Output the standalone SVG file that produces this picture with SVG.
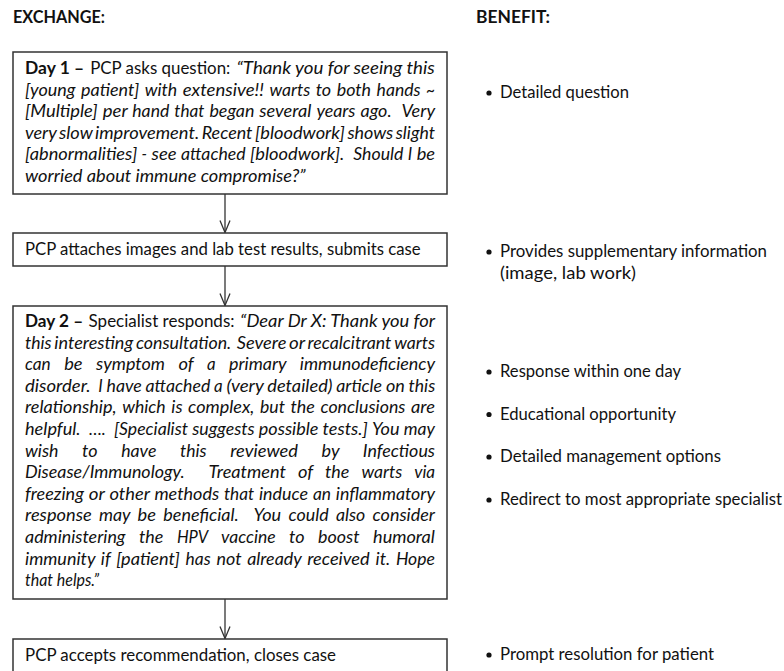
<svg xmlns="http://www.w3.org/2000/svg" width="784" height="671" viewBox="0 0 784 671">
<style>
text{font-family:Lato,"Liberation Sans",sans-serif;font-size:16.5px;fill:#111}
.h{font-weight:bold}
.b{font-weight:bold;font-style:normal}
.r{font-style:normal}
.i{font-style:italic}
.box{fill:#fff;stroke:#333;stroke-width:1.5}
.con{stroke:#333;stroke-width:1.3;fill:none}
.dot{fill:#111}
</style>
<defs>
<marker id="ah" markerWidth="14" markerHeight="12" refX="13" refY="6" orient="auto" markerUnits="userSpaceOnUse" viewBox="0 0 14 12">
<path d="M1,1 L13,6 L1,11" fill="none" stroke="#333" stroke-width="1.3"/>
</marker>
</defs>
<rect width="784" height="671" fill="#fff"/>
<text class="h" x="13" y="23" textLength="92" lengthAdjust="spacingAndGlyphs">EXCHANGE:</text>
<text class="h" x="476" y="23" textLength="74" lengthAdjust="spacingAndGlyphs">BENEFIT:</text>

<g id="connectors">
<line class="con" x1="225" y1="194" x2="225" y2="232.5" marker-end="url(#ah)"/>
<line class="con" x1="225" y1="266" x2="225" y2="305.5" marker-end="url(#ah)"/>
<line class="con" x1="225" y1="599" x2="225" y2="638.5" marker-end="url(#ah)"/>
</g>

<g id="n1">
<rect class="box" x="13" y="52" width="434" height="142"/>
<text y="74"><tspan class="b" x="25" textLength="59.1" lengthAdjust="spacingAndGlyphs">Day 1 –</tspan> <tspan x="90.2" textLength="140.1" lengthAdjust="spacingAndGlyphs">PCP asks question:</tspan> <tspan class="i" x="236.4" textLength="198.4" lengthAdjust="spacingAndGlyphs">“Thank you for seeing this</tspan></text>
<text class="i" y="95.6"><tspan x="25" textLength="50.5" lengthAdjust="spacingAndGlyphs">[young</tspan> <tspan x="81" textLength="58.2" lengthAdjust="spacingAndGlyphs">patient]</tspan> <tspan x="144.7" textLength="32.5" lengthAdjust="spacingAndGlyphs">with</tspan> <tspan x="182.7" textLength="81.2" lengthAdjust="spacingAndGlyphs">extensive!!</tspan> <tspan x="269.4" textLength="40.8" lengthAdjust="spacingAndGlyphs">warts</tspan> <tspan x="315.7" textLength="15.5" lengthAdjust="spacingAndGlyphs">to</tspan> <tspan x="336.7" textLength="34.4" lengthAdjust="spacingAndGlyphs">both</tspan> <tspan x="376.6" textLength="44" lengthAdjust="spacingAndGlyphs">hands</tspan> <tspan x="426.1" textLength="9" lengthAdjust="spacingAndGlyphs">~</tspan></text>
<text class="i" y="117.2"><tspan x="25" textLength="72.7" lengthAdjust="spacingAndGlyphs">[Multiple]</tspan> <tspan x="102.7" textLength="24.7" lengthAdjust="spacingAndGlyphs">per</tspan> <tspan x="132.3" textLength="37" lengthAdjust="spacingAndGlyphs">hand</tspan> <tspan x="174.3" textLength="30.1" lengthAdjust="spacingAndGlyphs">that</tspan> <tspan x="209.4" textLength="45" lengthAdjust="spacingAndGlyphs">began</tspan> <tspan x="259.3" textLength="52.1" lengthAdjust="spacingAndGlyphs">several</tspan> <tspan x="316.4" textLength="39.1" lengthAdjust="spacingAndGlyphs">years</tspan> <tspan x="360.5" textLength="31.1" lengthAdjust="spacingAndGlyphs">ago.</tspan> <tspan x="401.5" textLength="33.6" lengthAdjust="spacingAndGlyphs">Very</tspan></text>
<text class="i" y="138.8"><tspan x="25" textLength="31.5" lengthAdjust="spacingAndGlyphs">very</tspan> <tspan x="59" textLength="33.5" lengthAdjust="spacingAndGlyphs">slow</tspan> <tspan x="95" textLength="104.2" lengthAdjust="spacingAndGlyphs">improvement.</tspan> <tspan x="201.7" textLength="50.8" lengthAdjust="spacingAndGlyphs">Recent</tspan> <tspan x="255" textLength="89.9" lengthAdjust="spacingAndGlyphs">[bloodwork]</tspan> <tspan x="347.4" textLength="45.9" lengthAdjust="spacingAndGlyphs">shows</tspan> <tspan x="395.8" textLength="39.2" lengthAdjust="spacingAndGlyphs">slight</tspan></text>
<text class="i" y="160.4"><tspan x="25" textLength="112.2" lengthAdjust="spacingAndGlyphs">[abnormalities]</tspan> <tspan x="141.6" textLength="5.5" lengthAdjust="spacingAndGlyphs">-</tspan> <tspan x="151.5" textLength="25" lengthAdjust="spacingAndGlyphs">see</tspan> <tspan x="180.9" textLength="64.8" lengthAdjust="spacingAndGlyphs">attached</tspan> <tspan x="250" textLength="94.4" lengthAdjust="spacingAndGlyphs">[bloodwork].</tspan> <tspan x="353.2" textLength="50.2" lengthAdjust="spacingAndGlyphs">Should</tspan> <tspan x="407.8" textLength="4.5" lengthAdjust="spacingAndGlyphs">I</tspan> <tspan x="416.7" textLength="18.4" lengthAdjust="spacingAndGlyphs">be</tspan></text>
<text class="i" x="25" y="182" textLength="280.6" lengthAdjust="spacingAndGlyphs">worried about immune compromise?”</text>
</g>

<g id="n2">
<rect class="box" x="13" y="233" width="434" height="33"/>
<text x="25" y="255" textLength="395.6" lengthAdjust="spacingAndGlyphs">PCP attaches images and lab test results, submits case</text>
</g>

<g id="n3">
<rect class="box" x="13" y="306" width="434" height="293"/>
<text y="327"><tspan class="b" x="25" textLength="58.1" lengthAdjust="spacingAndGlyphs">Day 2 –</tspan> <tspan x="88.6" textLength="145.9" lengthAdjust="spacingAndGlyphs">Specialist responds:</tspan> <tspan class="i" x="240.1" textLength="194.9" lengthAdjust="spacingAndGlyphs">“Dear Dr X: Thank you for</tspan></text>
<text class="i" y="348.6"><tspan x="25" textLength="26.6" lengthAdjust="spacingAndGlyphs">this</tspan> <tspan x="54.3" textLength="78.9" lengthAdjust="spacingAndGlyphs">interesting</tspan> <tspan x="135.9" textLength="95.4" lengthAdjust="spacingAndGlyphs">consultation.</tspan>  <tspan x="236.8" textLength="49.6" lengthAdjust="spacingAndGlyphs">Severe</tspan> <tspan x="289.1" textLength="15.8" lengthAdjust="spacingAndGlyphs">or</tspan> <tspan x="307.6" textLength="83.8" lengthAdjust="spacingAndGlyphs">recalcitrant</tspan> <tspan x="394.2" textLength="40.8" lengthAdjust="spacingAndGlyphs">warts</tspan></text>
<text class="i" y="370.2"><tspan x="25" textLength="25.7" lengthAdjust="spacingAndGlyphs">can</tspan> <tspan x="64.2" textLength="18.4" lengthAdjust="spacingAndGlyphs">be</tspan> <tspan x="96.1" textLength="68.9" lengthAdjust="spacingAndGlyphs">symptom</tspan> <tspan x="178.5" textLength="15" lengthAdjust="spacingAndGlyphs">of</tspan> <tspan x="206.9" textLength="8.6" lengthAdjust="spacingAndGlyphs">a</tspan> <tspan x="229" textLength="57.3" lengthAdjust="spacingAndGlyphs">primary</tspan> <tspan x="299.8" textLength="135.2" lengthAdjust="spacingAndGlyphs">immunodeficiency</tspan></text>
<text class="i" y="391.8"><tspan x="25" textLength="65.6" lengthAdjust="spacingAndGlyphs">disorder.</tspan>  <tspan x="98.2" textLength="4.5" lengthAdjust="spacingAndGlyphs">I</tspan> <tspan x="106.5" textLength="35.2" lengthAdjust="spacingAndGlyphs">have</tspan> <tspan x="145.5" textLength="64.8" lengthAdjust="spacingAndGlyphs">attached</tspan> <tspan x="214.1" textLength="8.6" lengthAdjust="spacingAndGlyphs">a</tspan> <tspan x="226.5" textLength="37" lengthAdjust="spacingAndGlyphs">(very</tspan> <tspan x="267.3" textLength="65.2" lengthAdjust="spacingAndGlyphs">detailed)</tspan> <tspan x="336.3" textLength="45.8" lengthAdjust="spacingAndGlyphs">article</tspan> <tspan x="385.9" textLength="18.9" lengthAdjust="spacingAndGlyphs">on</tspan> <tspan x="408.6" textLength="26.6" lengthAdjust="spacingAndGlyphs">this</tspan></text>
<text class="i" y="413.4"><tspan x="25" textLength="91.6" lengthAdjust="spacingAndGlyphs">relationship,</tspan> <tspan x="122.2" textLength="43.5" lengthAdjust="spacingAndGlyphs">which</tspan> <tspan x="171.3" textLength="11.2" lengthAdjust="spacingAndGlyphs">is</tspan> <tspan x="188.1" textLength="66.3" lengthAdjust="spacingAndGlyphs">complex,</tspan> <tspan x="260" textLength="24.9" lengthAdjust="spacingAndGlyphs">but</tspan> <tspan x="290.5" textLength="24.4" lengthAdjust="spacingAndGlyphs">the</tspan> <tspan x="320.5" textLength="84.9" lengthAdjust="spacingAndGlyphs">conclusions</tspan> <tspan x="411" textLength="23.9" lengthAdjust="spacingAndGlyphs">are</tspan></text>
<text class="i" y="435"><tspan x="25" textLength="55.6" lengthAdjust="spacingAndGlyphs">helpful.</tspan>  <tspan x="88.9" textLength="17" lengthAdjust="spacingAndGlyphs">….</tspan>  <tspan x="114.1" textLength="73.9" lengthAdjust="spacingAndGlyphs">[Specialist</tspan> <tspan x="192.2" textLength="62.5" lengthAdjust="spacingAndGlyphs">suggests</tspan> <tspan x="258.8" textLength="59.7" lengthAdjust="spacingAndGlyphs">possible</tspan> <tspan x="322.6" textLength="45.2" lengthAdjust="spacingAndGlyphs">tests.]</tspan> <tspan x="371.9" textLength="27.7" lengthAdjust="spacingAndGlyphs">You</tspan> <tspan x="403.8" textLength="31.2" lengthAdjust="spacingAndGlyphs">may</tspan></text>
<text class="i" y="456.6"><tspan x="25" textLength="33.5" lengthAdjust="spacingAndGlyphs">wish</tspan> <tspan x="82.1" textLength="15.5" lengthAdjust="spacingAndGlyphs">to</tspan> <tspan x="121.2" textLength="35.2" lengthAdjust="spacingAndGlyphs">have</tspan> <tspan x="180" textLength="26.6" lengthAdjust="spacingAndGlyphs">this</tspan> <tspan x="230.2" textLength="67.8" lengthAdjust="spacingAndGlyphs">reviewed</tspan> <tspan x="321.6" textLength="17.6" lengthAdjust="spacingAndGlyphs">by</tspan> <tspan x="362.8" textLength="72.2" lengthAdjust="spacingAndGlyphs">Infectious</tspan></text>
<text class="i" y="478.2"><tspan x="25" textLength="159.6" lengthAdjust="spacingAndGlyphs">Disease/Immunology.</tspan>  <tspan x="208.5" textLength="77.5" lengthAdjust="spacingAndGlyphs">Treatment</tspan> <tspan x="298" textLength="15" lengthAdjust="spacingAndGlyphs">of</tspan> <tspan x="325" textLength="24.4" lengthAdjust="spacingAndGlyphs">the</tspan> <tspan x="361.4" textLength="40.8" lengthAdjust="spacingAndGlyphs">warts</tspan> <tspan x="414.2" textLength="20.9" lengthAdjust="spacingAndGlyphs">via</tspan></text>
<text class="i" y="499.8"><tspan x="25" textLength="58.9" lengthAdjust="spacingAndGlyphs">freezing</tspan> <tspan x="88.7" textLength="15.8" lengthAdjust="spacingAndGlyphs">or</tspan> <tspan x="109.4" textLength="40.2" lengthAdjust="spacingAndGlyphs">other</tspan> <tspan x="154.4" textLength="64.8" lengthAdjust="spacingAndGlyphs">methods</tspan> <tspan x="224" textLength="30.1" lengthAdjust="spacingAndGlyphs">that</tspan> <tspan x="259" textLength="49.1" lengthAdjust="spacingAndGlyphs">induce</tspan> <tspan x="312.9" textLength="18.1" lengthAdjust="spacingAndGlyphs">an</tspan> <tspan x="335.8" textLength="99.1" lengthAdjust="spacingAndGlyphs">inflammatory</tspan></text>
<text class="i" y="521.4"><tspan x="25" textLength="66.7" lengthAdjust="spacingAndGlyphs">response</tspan> <tspan x="99" textLength="31.2" lengthAdjust="spacingAndGlyphs">may</tspan> <tspan x="137.5" textLength="18.4" lengthAdjust="spacingAndGlyphs">be</tspan> <tspan x="163.3" textLength="75.5" lengthAdjust="spacingAndGlyphs">beneficial.</tspan>  <tspan x="253.5" textLength="27.7" lengthAdjust="spacingAndGlyphs">You</tspan> <tspan x="288.5" textLength="40.1" lengthAdjust="spacingAndGlyphs">could</tspan> <tspan x="336" textLength="29.3" lengthAdjust="spacingAndGlyphs">also</tspan> <tspan x="372.6" textLength="62.4" lengthAdjust="spacingAndGlyphs">consider</tspan></text>
<text class="i" y="543"><tspan x="25" textLength="100.5" lengthAdjust="spacingAndGlyphs">administering</tspan> <tspan x="139" textLength="24.4" lengthAdjust="spacingAndGlyphs">the</tspan> <tspan x="176.9" textLength="30.7" lengthAdjust="spacingAndGlyphs">HPV</tspan> <tspan x="221.1" textLength="54.5" lengthAdjust="spacingAndGlyphs">vaccine</tspan> <tspan x="289.1" textLength="15.5" lengthAdjust="spacingAndGlyphs">to</tspan> <tspan x="318.1" textLength="41.5" lengthAdjust="spacingAndGlyphs">boost</tspan> <tspan x="373.1" textLength="61.8" lengthAdjust="spacingAndGlyphs">humoral</tspan></text>
<text class="i" y="564.6"><tspan x="25" textLength="70.1" lengthAdjust="spacingAndGlyphs">immunity</tspan> <tspan x="100.85" textLength="9.6" lengthAdjust="spacingAndGlyphs">if</tspan> <tspan x="116.2" textLength="63.7" lengthAdjust="spacingAndGlyphs">[patient]</tspan> <tspan x="185.6" textLength="25.1" lengthAdjust="spacingAndGlyphs">has</tspan> <tspan x="216.5" textLength="25" lengthAdjust="spacingAndGlyphs">not</tspan> <tspan x="247.2" textLength="54.2" lengthAdjust="spacingAndGlyphs">already</tspan> <tspan x="307.2" textLength="62.5" lengthAdjust="spacingAndGlyphs">received</tspan> <tspan x="375.5" textLength="14.7" lengthAdjust="spacingAndGlyphs">it.</tspan> <tspan x="395.9" textLength="39.1" lengthAdjust="spacingAndGlyphs">Hope</tspan></text>
<text class="i" x="25" y="586.2" textLength="74" lengthAdjust="spacingAndGlyphs">that helps.”</text>
</g>

<g id="n4">
<rect class="box" x="13" y="639" width="434" height="50"/>
<text x="25" y="661" textLength="311" lengthAdjust="spacingAndGlyphs">PCP accepts recommendation, closes case</text>
</g>

<g id="benefits">
<circle class="dot" cx="489" cy="93" r="2.6"/>
<text x="500" y="98" textLength="129" lengthAdjust="spacingAndGlyphs">Detailed question</text>
<circle class="dot" cx="489" cy="252" r="2.6"/>
<text x="500" y="257" textLength="267" lengthAdjust="spacingAndGlyphs">Provides supplementary information</text>
<text x="500" y="278.5" textLength="136" lengthAdjust="spacingAndGlyphs">(image, lab work)</text>
<circle class="dot" cx="489" cy="372" r="2.6"/>
<text x="500" y="377" textLength="181" lengthAdjust="spacingAndGlyphs">Response within one day</text>
<circle class="dot" cx="489" cy="414.5" r="2.6"/>
<text x="500" y="419.5" textLength="176" lengthAdjust="spacingAndGlyphs">Educational opportunity</text>
<circle class="dot" cx="489" cy="457" r="2.6"/>
<text x="500" y="462" textLength="221" lengthAdjust="spacingAndGlyphs">Detailed management options</text>
<circle class="dot" cx="489" cy="500" r="2.6"/>
<text x="500" y="505" textLength="282" lengthAdjust="spacingAndGlyphs">Redirect to most appropriate specialist</text>
<circle class="dot" cx="489" cy="655" r="2.6"/>
<text x="500" y="660" textLength="214" lengthAdjust="spacingAndGlyphs">Prompt resolution for patient</text>
</g>
</svg>
